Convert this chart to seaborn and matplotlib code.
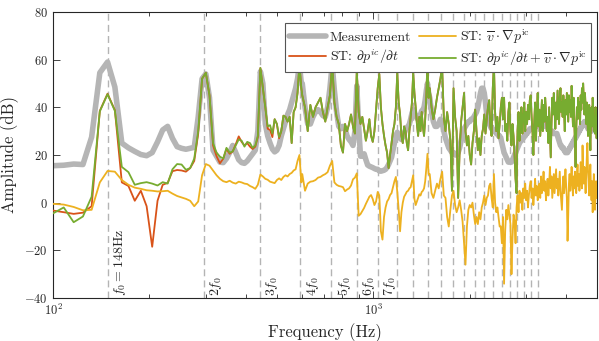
import numpy as np
import matplotlib
matplotlib.use("Agg")
import matplotlib.pyplot as plt
import seaborn as sns
from matplotlib.ticker import NullFormatter

sns.set_style("ticks")
plt.rcParams['font.family'] = 'serif'
plt.rcParams['font.serif'] = ['cmr10']
plt.rcParams['mathtext.fontset'] = 'cm'
plt.rcParams['axes.unicode_minus'] = False
plt.rcParams['axes.formatter.use_mathtext'] = True

# Frequency bins (Hz): fine below 600 Hz, coarser above
freq = np.concatenate([np.arange(100, 600, 8), np.arange(600, 1500, 12), np.arange(1500, 5001, 20)])

f0 = 148
harmonics = list(range(1, 23))
harmonic_labels = [r'$f_0 = 148$Hz', r'$2f_0$', r'$3f_0$', r'$4f_0$', r'$5f_0$', r'$6f_0$', r'$7f_0$']

# Measurement (dB)
meas_a = [15.5, 15.7, 16.2, 16.0, 27.5, 54.5, 59.0, 48.5, 25.0, 23.0,
          21.5, 20.2, 19.7, 21.0, 25.5, 30.5, 32.0, 27.0, 23.5, 22.8,
          22.4, 22.8, 23.2, 36.0, 52.0, 54.0, 44.0, 22.0, 19.5, 17.0,
          16.8, 18.5, 21.0, 24.0, 21.0, 18.0, 16.8, 16.5, 17.5, 19.0,
          20.5, 22.0, 30.0, 55.0, 50.0, 33.0, 28.0, 25.0, 22.5, 21.3,
          22.0, 24.0, 28.0, 31.0, 34.0, 37.0, 39.0, 42.0, 45.0, 48.0,
          52.0, 58.0, 50.0]
meas_b = [50, 40, 33, 33, 36, 38, 39, 38, 36.5, 36,
          40, 48, 58, 47, 38, 32, 31, 32, 31, 28,
          26.5, 25.5, 24, 30, 49, 32, 19.5, 19.5, 20.5, 18,
          15.8, 15.3, 15.0, 14.7, 14.3, 14, 14, 13.3, 13.2, 13.4,
          13.6, 14, 14.8, 16, 17.5, 19, 22, 25, 28, 29.5,
          28, 27, 26.5, 27.5, 29, 30.5, 31.5, 32, 33, 35,
          37.5, 39, 38, 36.5, 35.5, 35, 36, 37, 38.5, 39,
          40, 43, 47, 50, 46]
meas_c = [44, 38, 34, 32, 32, 33, 35, 34, 30, 27,
          25, 23, 22, 21, 21, 20, 20, 21, 23, 26,
          29, 31, 32, 33, 34, 34, 35, 35, 36, 37,
          38, 40, 43, 46, 48, 48, 46, 42, 37, 34,
          33, 32, 31, 31, 30, 30, 29, 29, 28, 28,
          27, 25, 23, 21, 20, 19, 18, 17, 17, 17,
          17, 18, 19, 20, 21, 22, 23, 24, 25, 26,
          26, 27, 27, 28, 28, 29, 29, 30, 30, 31,
          31, 31, 31, 32, 32, 32, 32, 32, 32, 32,
          32, 33, 33, 34, 34, 33, 33, 32, 32, 32,
          32, 31, 31, 30, 30, 30, 30, 29, 29, 29,
          29, 29, 29, 28, 27, 26, 25, 24, 24, 23,
          23, 23, 22, 22, 21, 21, 21, 21, 22, 22,
          23, 23, 24, 24, 25, 25, 26, 26, 27, 27,
          28, 28, 29, 29, 30, 30, 31, 31, 32, 32,
          33, 33, 33, 34, 34, 33, 33, 32, 32, 31,
          31, 31, 30, 30, 30, 30, 31, 31, 31, 31,
          31, 31, 31, 30, 30, 30]

# ST: dp/dt  (differs from the sum only at low frequency)
red_a = [-3.3, -4.0, -4.7, -4.2, -1.5, 38.5, 45.7, 38.8, 8.5, 7.0,
         0.8, 5.0, -1.5, -18.5, 0.8, 7.5, 8.3, 13.2, 13.7, 13.5,
         13.0, 14.5, 17.5, 29.0, 52.0, 54.5, 45.0, 24.0, 19.5, 16.5,
         18.5, 22.5, 20.5, 21.5, 24.5, 27.8, 25.5, 24.0, 25.0, 23.5,
         22.5, 23.5, 27.5, 56.5, 48.0, 40.0, 31.0, 30.5, 27.5, 35.0,
         33.0, 27.0, 30.0, 36.5, 36.0, 34.0, 36.0, 25.0, 38.0, 40.0,
         46.0, 58.0, 48.0]

# ST: dp/dt + v.grad p
green_a = [-4.5, -2.0, -8.2, -5.8, 2.5, 38.3, 45.5, 38.5, 15.0, 12.8,
           7.5, 8.2, 8.6, 8.0, 7.2, 8.6, 8.0, 14.0, 16.2, 16.0,
           13.8, 14.5, 18.5, 30.0, 52.0, 54.5, 45.0, 25.0, 21.0, 19.3,
           18.5, 23.0, 21.0, 21.5, 24.0, 26.5, 26.0, 23.5, 25.5, 25.0,
           23.0, 24.0, 28.0, 56.5, 48.0, 40.0, 32.0, 32.5, 29.0, 35.0,
           33.0, 27.5, 30.0, 36.5, 36.0, 34.0, 36.0, 25.0, 38.0, 40.0,
           46.0, 58.0, 48.0]
green_b = [45, 40, 30, 41, 36, 40, 42, 44, 38, 34,
           40, 45, 58.5, 42, 36, 33, 24, 21, 33, 30,
           33, 37, 32, 29, 55.5, 38, 33, 36, 31, 26,
           30, 35, 28, 25.5, 30, 39, 48, 54, 40, 33,
           28, 24, 21, 14.5, 20, 25, 30, 33, 40, 54.5,
           42, 37, 28, 25, 32, 30, 25, 22, 30, 36,
           42, 54.5, 46, 40, 33, 28, 36, 30, 38, 32,
           28, 35, 45, 60, 44]
green_c = [48, 40, 35, 39, 44, 48, 52, 57, 36, 30,
           38, 33, 26, 5, 48, 36, 30, 2, 22, 34,
           40, 46, 30, 24, 28, 20, 16, 25, 30, 39,
           30, 22, 27, 20, 28, 31, 37, 29, 35, 40,
           43, 32, 28, 48, 58, 38, 30, 36, 27, 33,
           40, 44, 35, 44, 30, 33, 26, 38, 42, 30,
           24, 33, 28, 20, 10, 4, 30, 38, 26, 34,
           40, 29, 36, 42, 30, 38, 33, 41, 35, 43,
           45, 36, 30, 20, 34, 42, 26, 38, 46, 32,
           39, 28, 36, 43, 30, 41, 34, 44, 38, 30,
           36, 25, 40, 30, 19, 33, 44, 37, 46, 39,
           31, 42, 35, 47, 40, 33, 44, 48, 38, 42,
           36, 45, 39, 30, 43, 37, 46, 40, 34, 45,
           38, 43, 36, 49, 41, 32, 44, 35, 25, 15,
           30, 40, 35, 44, 38, 42, 33, 45, 39, 48,
           42, 50, 44, 37, 46, 40, 33, 42, 36, 28,
           34, 41, 30, 22, 35, 40, 32, 44, 38, 30,
           36, 29, 40, 33, 27, 34]

# ST: v.grad p
yellow_a = [-0.5, -0.8, -1.8, -3.2, -3.0, 8.5, 13.3, 13.0, 9.5, 7.5,
            6.3, 5.8, 5.2, 5.0, 4.7, 4.8, 5.0, 3.8, 2.8, 2.2,
            1.6, 0.8, -1.5, 0.5, 11.5, 16.2, 15.5, 13.5, 11.5, 10.0,
            9.0, 8.6, 9.2, 8.4, 8.0, 8.8, 8.5, 8.0, 7.8, 7.0,
            6.5, 5.8, 7.5, 11.8, 11.0, 10.0, 9.6, 8.8, 8.5, 8.2,
            9.5, 10.2, 9.5, 10.8, 11.5, 11.0, 12.0, 12.5, 13.5, 14.0,
            17.5, 20.0, 8.5]
yellow_b = [12, 5, 8, 8.8, 9, 9.5, 10.5, 10.8, 11.5, 12,
            12.8, 15.5, 17.5, 8.5, 7.5, 7, 6.8, 6.5, 4.8, 5.5,
            6, 7.2, 9.8, 10.5, 12.3, -5.5, -4.8, -3.5, -2.2, -0.5,
            1.0, 2.5, 3.2, 1.5, -1.0, 0.5, 4.5, 3.0, -12, -15.5,
            -6, -2, 0.5, 1.5, 3.2, 4.0, 6.5, 9.0, 10.8, 4.5,
            -3, -12, -4, 0, 2.5, 3.5, 4.6, 5.0, 6.0, 6.5,
            9.0, 11.5, 1.5, -1, 0.5, 2.0, 3.5, 3.0, 4.5, 5.0,
            6.0, 9.0, 14.5, 20.5, 12]
yellow_c = [12, 4, 2, 5, 8, 6, 10, 13, 3, 2,
            -6, -10, -3, 3, 5, -1, -4, -2, 1, -3,
            -8, -17, -26, -10, -3, -1, -2, 0, -5, -9,
            -6, -9, -4, -7, -2, 0, 3, -1, 2, 3,
            7, 8, 2, -2, 12, 0, -4, -2, -6, -10,
            -10, -17, -6, -34, -12, -3, -7, -1, -5, -9,
            -30, -15, -5, -8, -17, -2, 3, -4, 5, 0,
            4, -3, 6, 2, 8, 1, 5, -2, 3, 7,
            9, 2, 6, -1, 4, 10, 3, 7, 1, 5,
            8, 2, 11, 4, 7, 13, 5, 9, 1, 6,
            10, 3, 8, 15, 6, 11, 2, 7, 12, 4,
            9, 14, 6, 10, 3, 8, 13, 5, 1, -3,
            6, 11, 4, 9, 14, 7, 2, -16, -5, 8,
            12, 5, 10, 15, 8, 3, 11, 6, 13, 9,
            4, 10, 16, 7, 12, 5, 9, 17, 11, 6,
            24, 13, 8, 15, 10, 4, 12, 19, 25, 14,
            8, 3, 11, 16, 6, 1, 9, -4, 5, 12,
            7, -3, 4, 9, 2, 6]

meas = np.concatenate([meas_a, meas_b, meas_c])
st_dt = np.concatenate([red_a, green_b, green_c])
st_conv = np.concatenate([yellow_a, yellow_b, yellow_c])
st_sum = np.concatenate([green_a, green_b, green_c])

fig, ax = plt.subplots(figsize=(5.99, 3.41), dpi=100)
fig.subplots_adjust(left=0.0885, right=0.997, bottom=0.126, top=0.965)

# harmonic markers
for n in harmonics:
    ax.axvline(n * f0, color='#b4b4b4', lw=1.0, ls=(0, (5, 3)), zorder=1)
for n, lab in zip(harmonics, harmonic_labels):
    ax.text(n * f0 * 1.03, -39, lab, rotation=90, ha='left', va='bottom', fontsize=10)

sns.lineplot(x=freq, y=meas, ax=ax, color='#b5b5b5', lw=4, label='Measurement', zorder=2)
sns.lineplot(x=freq, y=st_dt, ax=ax, color='#D95319', lw=1.3,
             label=r'ST: $\partial p^{ic}/\partial t$', zorder=3)
sns.lineplot(x=freq, y=st_conv, ax=ax, color='#EDB120', lw=1.3,
             label=r'ST: $\overline{v}\cdot\nabla p^{\mathrm{ic}}$', zorder=3)
sns.lineplot(x=freq, y=st_sum, ax=ax, color='#77AC30', lw=1.3,
             label=r'ST: $\partial p^{ic}/\partial t + \overline{v}\cdot\nabla p^{\mathrm{ic}}$', zorder=4)

ax.set_xscale('log')
ax.set_xlim(100, 5000)
ax.set_ylim(-40, 80)
ax.set_yticks([-40, -20, 0, 20, 40, 60, 80])
ax.xaxis.set_minor_formatter(NullFormatter())
ax.tick_params(which='both', direction='in', top=True, right=True, labelsize=9, width=0.6)
ax.tick_params(which='major', length=5)
ax.tick_params(which='minor', length=3)
for sp in ax.spines.values():
    sp.set_linewidth(0.8)

ax.set_xlabel('Frequency (Hz)', fontsize=12)
ax.set_ylabel('Amplitude (dB)', fontsize=12)

leg = ax.legend(ncol=2, loc='upper right', bbox_to_anchor=(0.988, 0.962), borderaxespad=0,
                fontsize=10, frameon=True, fancybox=False, framealpha=1, edgecolor='#555555',
                handlelength=2.6, handletextpad=0.3, columnspacing=0.6, labelspacing=0.25,
                borderpad=0.3)
leg.get_frame().set_linewidth(0.8)

fig.savefig('out.png', dpi=100)
